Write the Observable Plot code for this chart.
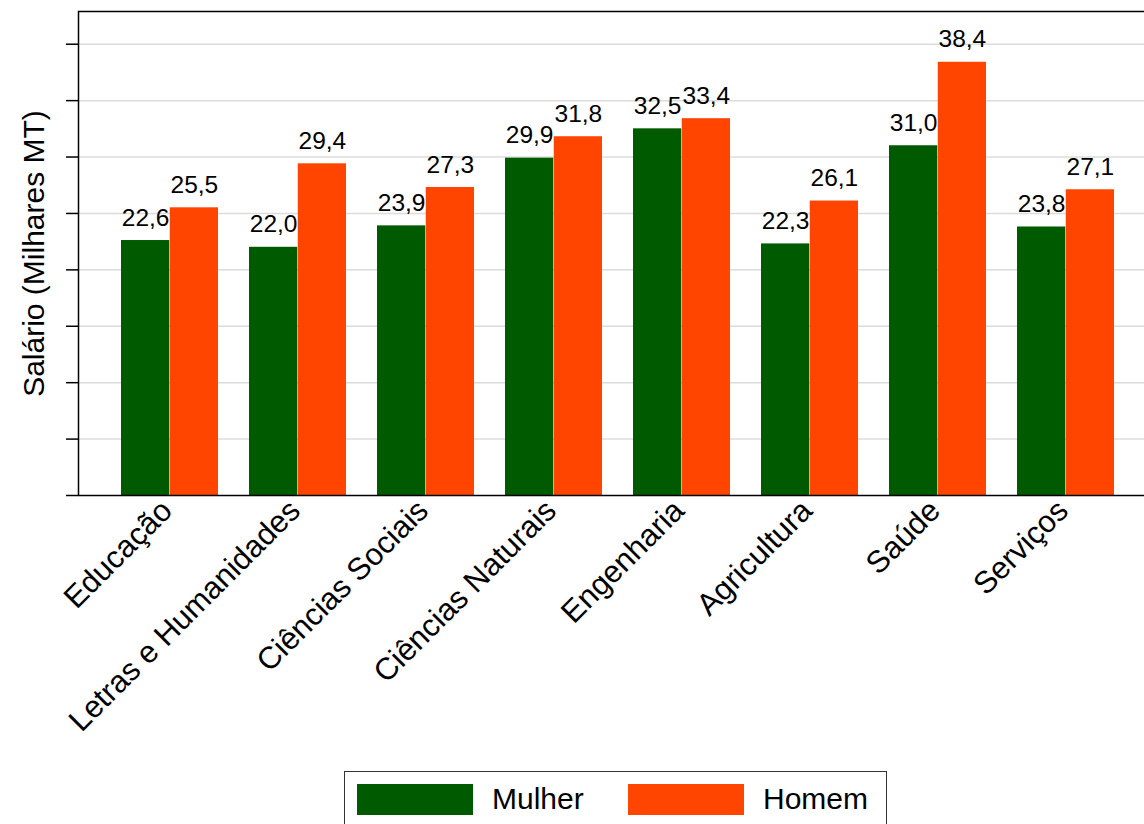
<!DOCTYPE html>
<html>
<head>
<meta charset="utf-8">
<script src="https://cdn.jsdelivr.net/npm/d3@7"></script>
<script src="https://cdn.jsdelivr.net/npm/@observablehq/plot@0.6"></script>
<style>
  html, body { margin: 0; padding: 0; background: #fff; overflow: hidden; }
  body { width: 1144px; height: 824px; font-family: "Liberation Sans", Arial, sans-serif; }
  #legend {
    position: relative; margin-top: 11px; margin-left: 344px; width: 543px; height: 60px;
    border: 1.5px solid #333; box-sizing: border-box; background: #fff;
  }
  .sw { position: absolute; top: 12px; width: 116px; height: 31px; }
  .lb { position: absolute; top: 9px; font-size: 30px; color: #000; line-height: 36px; }
</style>
</head>
<body>
<div id="chart"></div>
<script>
const categories = ["Educação", "Letras e Humanidades", "Ciências Sociais", "Ciências Naturais", "Engenharia", "Agricultura", "Saúde", "Serviços"];
const series = ["Mulher", "Homem"];
const mulher = [22.6, 22.0, 23.9, 29.9, 32.5, 22.3, 31.0, 23.8];
const homem  = [25.5, 29.4, 27.3, 31.8, 33.4, 26.1, 38.4, 27.1];
const yTicks = [0, 5, 10, 15, 20, 25, 30, 35, 40];
const yLabel = "Salário (Milhares MT)";
const colors = ["#005a00", "#ff4500"];

const data = [];
categories.forEach((c, i) => {
  data.push({area: c, sexo: "Mulher", valor: mulher[i]});
  data.push({area: c, sexo: "Homem", valor: homem[i]});
});
const fmt = v => v.toFixed(1).replace(".", ",");
const half = 48.75;

const chart = Plot.plot({
  width: 1144,
  height: 760,
  marginTop: 11,
  marginLeft: 78,
  marginRight: -12.5,
  marginBottom: 265,
  style: {fontFamily: "'Liberation Sans', Arial, sans-serif", background: "white", color: "black"},
  x: {domain: categories, paddingInner: 0.2425, paddingOuter: 0.311, axis: null},
  y: {domain: [0, 42.9], axis: null},
  color: {domain: series, range: colors},
  marks: [
    Plot.gridY(yTicks.filter(d => d > 0), {stroke: "#dcdcdc", strokeOpacity: 1, strokeWidth: 1.5}),
    Plot.barY(data.filter(d => d.sexo === "Mulher"), {x: "area", y: "valor", fill: "sexo", insetRight: half}),
    Plot.barY(data.filter(d => d.sexo === "Homem"), {x: "area", y: "valor", fill: "sexo", insetLeft: half}),
    Plot.text(data.filter(d => d.sexo === "Mulher"), {x: "area", y: "valor", text: d => fmt(d.valor), dx: -half / 2, dy: -15, lineAnchor: "bottom", fontSize: 24.5, fill: "black"}),
    Plot.text(data.filter(d => d.sexo === "Homem"), {x: "area", y: "valor", text: d => fmt(d.valor), dx: half / 2, dy: -15, lineAnchor: "bottom", fontSize: 24.5, fill: "black"}),
    Plot.axisY(yTicks, {tickSize: 12, tickFormat: () => "", label: null, stroke: "black", strokeWidth: 1.5}),
    Plot.frame({stroke: "black", strokeWidth: 1.5}),
    Plot.text(categories, {x: d => d, text: d => d, frameAnchor: "bottom", rotate: -45, textAnchor: "end", lineAnchor: "bottom", dx: 4, dy: 17, fontSize: 31, fill: "black"}),
    Plot.text([yLabel], {text: d => d, frameAnchor: "left", rotate: -90, textAnchor: "middle", lineAnchor: "bottom", dx: -35, fontSize: 30, fill: "black"})
  ]
});
document.getElementById("chart").appendChild(chart);

const legend = document.createElement("div");
legend.id = "legend";
const pos = [[12, 147], [283, 418]];
series.forEach((s, i) => {
  const sw = document.createElement("div");
  sw.className = "sw";
  sw.style.left = pos[i][0] + "px";
  sw.style.background = colors[i];
  const lb = document.createElement("div");
  lb.className = "lb";
  lb.style.left = pos[i][1] + "px";
  lb.textContent = s;
  legend.appendChild(sw);
  legend.appendChild(lb);
});
document.body.appendChild(legend);
</script>
</body>
</html>
